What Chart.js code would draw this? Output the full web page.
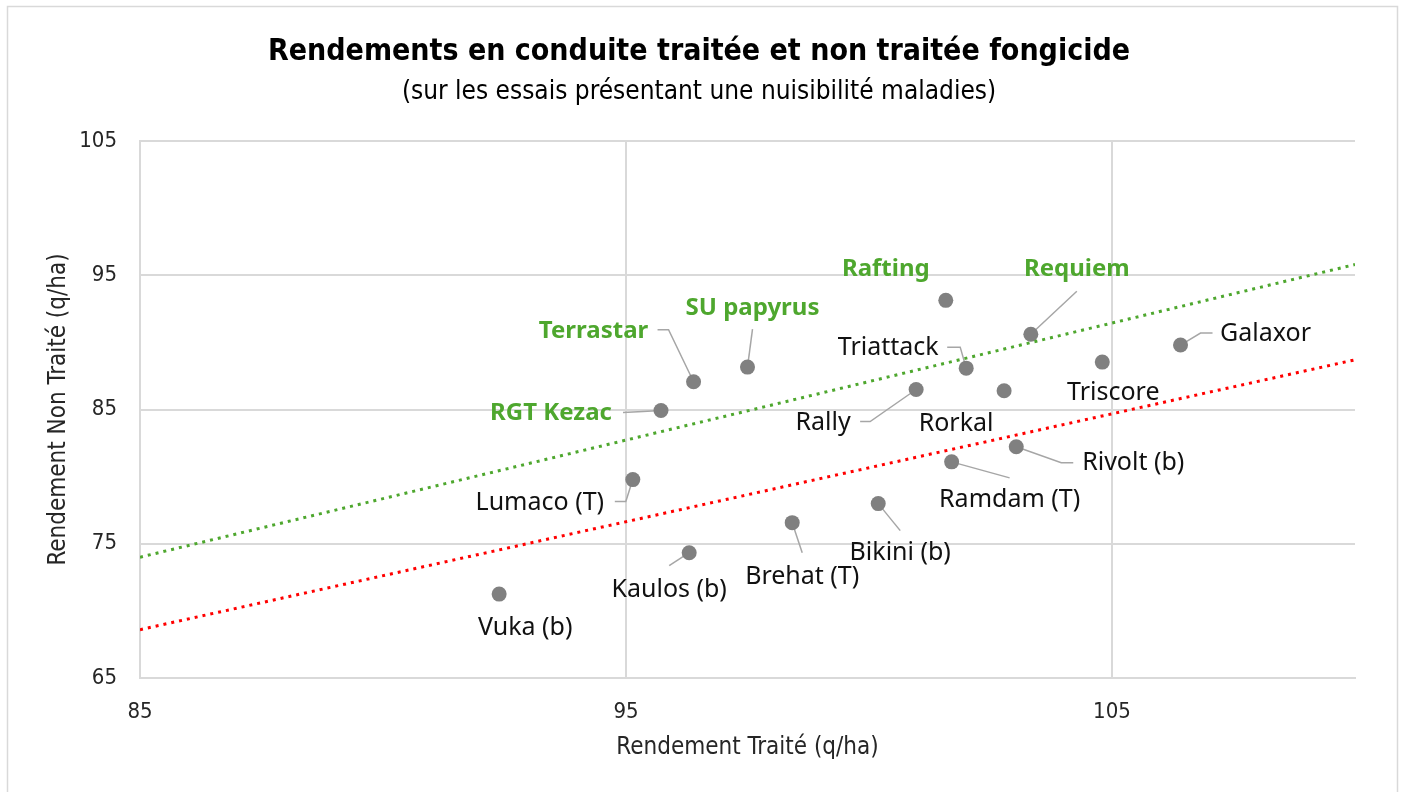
<!DOCTYPE html>
<html>
<head>
<meta charset="utf-8">
<title>Rendements en conduite traitée et non traitée fongicide</title>
<script src="https://cdn.jsdelivr.net/npm/chart.js@4.4.1/dist/chart.umd.min.js"></script>
<style>
  html, body { margin: 0; padding: 0; background: #ffffff; }
  canvas { display: block; }
</style>
</head>
<body>
<canvas id="chart" width="1407" height="792"></canvas>
<script>
// Variety names, treated yield (x) and untreated yield (y), in q/ha
const varieties = [
  "Vuka (b)", "Kaulos (b)", "Lumaco (T)", "RGT Kezac", "Terrastar",
  "SU papyrus", "Brehat (T)", "Bikini (b)", "Rally", "Rafting",
  "Ramdam (T)", "Triattack", "Rorkal", "Rivolt (b)", "Requiem",
  "Triscore", "Galaxor"
];
const yieldTreated = [
  92.39, 96.30, 95.14, 95.72, 96.39,
  97.50, 98.42, 100.19, 100.97, 101.58,
  101.70, 102.00, 102.78, 103.03, 103.33,
  104.80, 106.41
];
const yieldUntreated = [
  71.25, 74.33, 79.78, 84.93, 87.07,
  88.16, 76.57, 77.99, 86.49, 93.13,
  81.10, 88.08, 86.40, 82.22, 90.60,
  88.53, 89.80
];
// varieties written in green bold
const highlighted = ["RGT Kezac", "Terrastar", "SU papyrus", "Rafting", "Requiem"];

// the two dotted reference lines, read at both ends of the x axis
const refLineX = [85, 110];
const greenLineY = [74.0, 95.8];
const redLineY = [68.6, 88.7];

const xMin = 85, xMax = 110;
const xTicks = [85, 95, 105];
const yMin = 65, yMax = 105;
const yTicks = [65, 75, 85, 95, 105];

const GREEN = "#4ea72e";
const NARROW = "'Liberation Sans Narrow', 'DejaVu Sans Condensed', 'Roboto', sans-serif";
const LABEL_FONT = "'Noto Sans', 'Open Sans', sans-serif";

// label placement relative to each point (pixels) and the leader line path
const labelLayout = {
  "Vuka (b)":   { dx: 26,   dy: 34,  leader: [] },
  "Kaulos (b)": { dx: -20,  dy: 37,  leader: [[0, 0], [-20, 13]] },
  "Lumaco (T)": { dx: -93,  dy: 23,  leader: [[0, 0], [-7, 22], [-18, 22]] },
  "RGT Kezac":  { dx: -110, dy: 3,   leader: [[0, 0], [-18, 1], [-38, 2]] },
  "Terrastar":  { dx: -100, dy: -51, leader: [[0, 0], [-25, -52], [-36, -52]] },
  "SU papyrus": { dx: 5,    dy: -59, leader: [[0, 0], [5, -38]] },
  "Brehat (T)": { dx: 10,   dy: 54,  leader: [[0, 0], [10, 30]] },
  "Bikini (b)": { dx: 22,   dy: 49,  leader: [[0, 0], [22, 27]] },
  "Rally":      { dx: -93,  dy: 33,  leader: [[0, 0], [-46, 32], [-56, 32]] },
  "Rafting":    { dx: -60,  dy: -31, leader: [] },
  "Ramdam (T)": { dx: 58,   dy: 38,  leader: [[0, 0], [58, 16]] },
  "Triattack":  { dx: -78,  dy: -20, leader: [[0, 0], [-6, -21], [-19, -21]] },
  "Rorkal":     { dx: -48,  dy: 33,  leader: [] },
  "Rivolt (b)": { dx: 117,  dy: 16,  leader: [[0, 0], [45, 16], [57, 16]] },
  "Requiem":    { dx: 46,   dy: -65, leader: [[0, 0], [46, -43]] },
  "Triscore":   { dx: 11,   dy: 31,  leader: [] },
  "Galaxor":    { dx: 85,   dy: -11, leader: [[0, 0], [20, -12], [32, -12]] }
};

const points = varieties.map((name, i) => ({ x: yieldTreated[i], y: yieldUntreated[i] }));

// frame, titles, leader lines and labels
const decorPlugin = {
  id: "decor",
  beforeDraw(chart) {
    const ctx = chart.ctx;
    ctx.save();
    ctx.strokeStyle = "#d9d9d9";
    ctx.lineWidth = 1.5;
    ctx.strokeRect(7.5, 6.5, 1390, 820);

    ctx.fillStyle = "#000000";
    ctx.textAlign = "center";
    ctx.textBaseline = "middle";
    ctx.font = "bold 30px " + NARROW;
    ctx.fillText("Rendements en conduite traitée et non traitée fongicide", 699, 52);
    ctx.font = "26px " + NARROW;
    ctx.fillText("(sur les essais présentant une nuisibilité maladies)", 699, 92);
    ctx.restore();
  },
  beforeDatasetsDraw(chart) {
    const ctx = chart.ctx;
    const xs = chart.scales.x, ys = chart.scales.y;
    ctx.save();
    ctx.strokeStyle = "#a6a6a6";
    ctx.lineWidth = 1.5;
    varieties.forEach((name, i) => {
      const lay = labelLayout[name];
      if (!lay || lay.leader.length < 2) return;
      const px = xs.getPixelForValue(yieldTreated[i]);
      const py = ys.getPixelForValue(yieldUntreated[i]);
      ctx.beginPath();
      lay.leader.forEach((p, k) => {
        if (k === 0) ctx.moveTo(px + p[0], py + p[1]);
        else ctx.lineTo(px + p[0], py + p[1]);
      });
      ctx.stroke();
    });
    ctx.restore();
  },
  afterDatasetsDraw(chart) {
    const ctx = chart.ctx;
    const xs = chart.scales.x, ys = chart.scales.y;
    ctx.save();
    ctx.textAlign = "center";
    ctx.textBaseline = "middle";
    varieties.forEach((name, i) => {
      const lay = labelLayout[name];
      const px = xs.getPixelForValue(yieldTreated[i]);
      const py = ys.getPixelForValue(yieldUntreated[i]);
      if (highlighted.includes(name)) {
        ctx.font = "bold 24px " + LABEL_FONT;
        ctx.fillStyle = GREEN;
      } else {
        ctx.font = "25px " + LABEL_FONT;
        ctx.fillStyle = "#111111";
      }
      ctx.fillText(name, px + lay.dx, py + lay.dy);
    });
    ctx.restore();
  }
};

new Chart(document.getElementById("chart"), {
  data: {
    datasets: [
      {
        type: "line",
        label: "seuil vert",
        data: refLineX.map((x, i) => ({ x: x, y: greenLineY[i] })),
        borderColor: GREEN,
        borderWidth: 3,
        borderDash: [3, 5],
        pointRadius: 0,
        fill: false
      },
      {
        type: "line",
        label: "seuil rouge",
        data: refLineX.map((x, i) => ({ x: x, y: redLineY[i] })),
        borderColor: "#ff0000",
        borderWidth: 3,
        borderDash: [3, 5],
        pointRadius: 0,
        fill: false
      },
      {
        type: "scatter",
        label: "Variétés",
        data: points,
        backgroundColor: "#808080",
        borderWidth: 0,
        pointRadius: 7.5,
        pointHoverRadius: 7.5
      }
    ]
  },
  options: {
    responsive: false,
    devicePixelRatio: 1,
    animation: false,
    events: [],
    layout: { padding: { top: 141, right: 52, bottom: 0, left: 0 } },
    plugins: {
      legend: { display: false },
      tooltip: { enabled: false },
      title: { display: false }
    },
    scales: {
      x: {
        type: "linear",
        min: xMin,
        max: xMax,
        afterFit(scale) { scale.height = 114; },
        afterBuildTicks(scale) { scale.ticks = xTicks.map(v => ({ value: v })); },
        ticks: {
          padding: 21,
          color: "#262626",
          font: { family: NARROW, size: 22 }
        },
        grid: { color: "#d9d9d9", lineWidth: 2, drawTicks: false },
        border: { color: "#d9d9d9", width: 2 },
        title: {
          display: true,
          text: "Rendement Traité (q/ha)",
          color: "#262626",
          font: { family: NARROW, size: 24 },
          padding: { top: 0, bottom: 30 }
        }
      },
      y: {
        type: "linear",
        min: yMin,
        max: yMax,
        afterFit(scale) { scale.width = 140; },
        afterBuildTicks(scale) { scale.ticks = yTicks.map(v => ({ value: v })); },
        ticks: {
          padding: 23,
          color: "#262626",
          font: { family: NARROW, size: 22 }
        },
        grid: { color: "#d9d9d9", lineWidth: 2, drawTicks: false },
        border: { color: "#d9d9d9", width: 2 },
        title: {
          display: true,
          text: "Rendement Non Traité (q/ha)",
          color: "#262626",
          font: { family: NARROW, size: 24 },
          padding: { top: 44, bottom: 0 }
        }
      }
    }
  },
  plugins: [decorPlugin]
});
</script>
</body>
</html>
